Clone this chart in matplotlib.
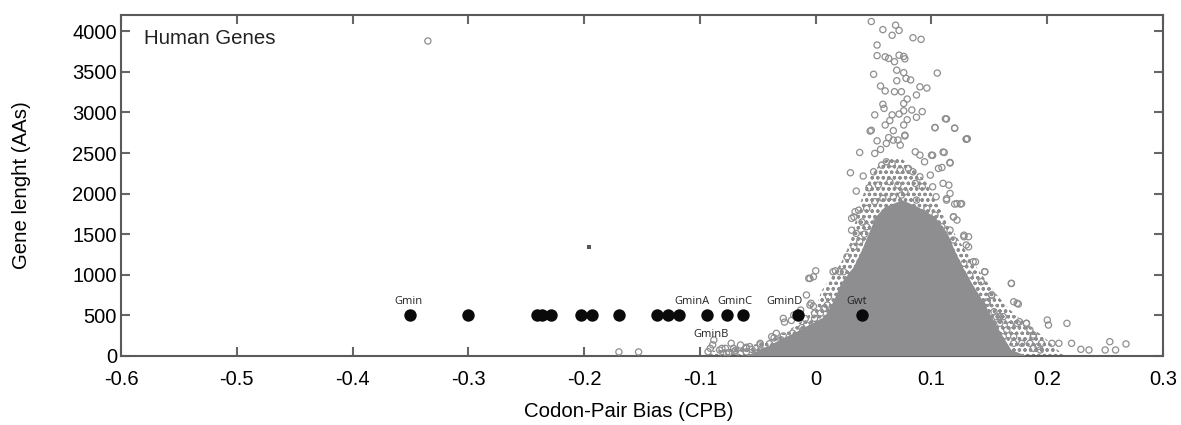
import numpy as np
from matplotlib import pyplot as plt
from matplotlib import rcParams

midgray = "#8e8e90"
spinegray = "#5a5a5a"

rcParams["font.family"] = ["Liberation Sans", "DejaVu Sans"]
rcParams["xtick.labelsize"] = 14.5
rcParams["ytick.labelsize"] = 14.5
rcParams["axes.labelsize"] = 14.7
rcParams["text.color"] = "#222222"
rcParams["hatch.linewidth"] = 0.9
rcParams["hatch.color"] = midgray

# recoded genes (black dots), all at 500 AAs
dot_cpb = [-0.350, -0.300, -0.241, -0.236, -0.229, -0.203, -0.193, -0.170,
           -0.137, -0.128, -0.118, -0.094, -0.077, -0.063, -0.015, 0.040]
dot_len = [500] * len(dot_cpb)

gene_labels = ["Gmin", "GminA", "GminB", "GminC", "GminD", "Gwt"]
label_cpb = [-0.352, -0.107, -0.090, -0.070, -0.027, 0.035]
label_len = [665, 665, 265, 665, 665, 665]

# solid core of the human gene cloud (outline)
core_cpb = [-0.060, -0.048, -0.019, 0.008, 0.016, 0.022, 0.033, 0.040, 0.046,
            0.052, 0.060, 0.075, 0.088, 0.103, 0.114, 0.120, 0.127, 0.135,
            0.144, 0.152, 0.160, 0.169, 0.182]
core_len = [0, 74, 279, 484, 688, 893, 1098, 1303, 1508, 1713, 1836, 1918,
            1836, 1713, 1508, 1303, 1098, 893, 688, 484, 279, 74, 0]

# band of densely overlapping genes around the core
band_cpb = [-0.095, -0.090, -0.060, -0.040, -0.025, -0.010, 0.000, 0.005, 0.015,
            0.022, 0.030, 0.035, 0.040, 0.047, 0.056, 0.065, 0.075, 0.085,
            0.095, 0.102, 0.110, 0.118, 0.127, 0.136, 0.146, 0.156, 0.167,
            0.181, 0.196, 0.206, 0.215]
band_len = [0, 60, 110, 200, 300, 450, 600, 800, 1000, 1150, 1400, 1700, 1950,
            2200, 2380, 2450, 2420, 2300, 2150, 1950, 1750, 1550, 1350, 1150,
            950, 760, 580, 400, 250, 110, 0]

# individual human genes outside the dense band
genes_top = [
    (0.048, 4120), (0.058, 4020), (0.069, 4075), (0.072, 4010), (0.066, 3950),
    (0.084, 3920), (0.091, 3900), (0.053, 3830), (0.053, 3700), (0.060, 3685),
    (0.063, 3665), (0.072, 3705), (0.076, 3690), (0.077, 3660), (0.068, 3625),
    (0.050, 3470), (0.070, 3520), (0.076, 3490), (0.105, 3485), (0.070, 3390),
    (0.078, 3420), (0.082, 3400), (0.056, 3325), (0.060, 3265), (0.068, 3255),
    (0.074, 3255), (0.087, 3215), (0.090, 3315), (0.096, 3300), (0.079, 3165),
    (0.076, 3110), (0.058, 3100), (0.059, 3050), (0.051, 2970), (0.066, 2970),
    (0.072, 2980), (0.076, 3020), (0.083, 3030), (0.092, 3010), (0.087, 2940),
    (0.079, 2910), (0.064, 2900), (0.113, 2920), (0.103, 2815), (0.120, 2805),
    (0.048, 2780), (0.060, 2845), (0.067, 2775), (0.076, 2845), (0.130, 2670),
    (0.053, 2650), (0.063, 2690), (0.071, 2660), (0.077, 2710), (-0.335, 3880),
]
genes_mid = [
    (0.047, 2770), (0.130, 2671), (0.038, 2507), (0.051, 2495), (0.056, 2544),
    (0.061, 2618), (0.067, 2659), (0.073, 2597), (0.077, 2720), (0.086, 2515),
    (0.090, 2474), (0.094, 2392), (0.100, 2474), (0.111, 2507), (0.116, 2384),
    (0.030, 2257), (0.041, 2216), (0.050, 2269), (0.057, 2351), (0.061, 2392),
    (0.066, 2372), (0.073, 2290), (0.080, 2310), (0.084, 2269), (0.090, 2208),
    (0.099, 2228), (0.106, 2310), (0.109, 2322), (0.035, 2031), (0.046, 2072),
    (0.054, 2105), (0.064, 2146), (0.071, 2105), (0.077, 2023), (0.086, 2126),
    (0.092, 2084), (0.101, 2084), (0.110, 2126), (0.115, 2105), (0.116, 2002),
    (0.125, 1871), (0.120, 1871), (0.104, 1961), (0.113, 1920), (0.031, 1695),
    (0.034, 1777), (0.044, 1818), (0.051, 1900), (0.058, 1941), (0.067, 1961),
    (0.074, 1982), (0.087, 1920), (0.096, 1818), (0.103, 1736), (0.119, 1715),
    (0.122, 1674), (0.116, 1551), (0.128, 1469), (0.132, 1469), (0.035, 1510),
    (0.044, 1592), (0.053, 1674), (0.061, 1756), (0.070, 1797), (0.079, 1838),
    (0.084, 1674), (0.090, 1715), (0.099, 1633), (0.109, 1592), (0.119, 1428),
    (0.130, 1367), (0.038, 1408), (0.047, 1428), (0.112, 2922), (0.120, 2807),
    (0.131, 2676), (0.103, 2811), (0.116, 2377), (0.110, 2512), (0.101, 2471),
    (0.113, 1938), (0.122, 1877), (0.126, 1877), (0.119, 1713), (0.128, 1488),
    (0.132, 1344), (0.027, 1221), (0.033, 1344), (0.031, 1549), (0.033, 1713),
    (0.037, 1795), (0.040, 1650), (0.042, 1500), (0.108, 1400), (0.115, 1300),
]
genes_left = [
    (0.000, 1049), (-0.005, 955), (0.017, 1049), (0.021, 1037), (0.030, 955),
    (-0.028, 463), (-0.019, 504), (-0.013, 566), (-0.005, 627), (-0.001, 525),
    (0.007, 586), (0.010, 627), (-0.008, 381), (-0.034, 279), (-0.038, 238),
    (-0.048, 156), (-0.057, 115), (-0.065, 135), (-0.073, 156), (-0.078, 94),
    (-0.088, 197), (-0.091, 94), (-0.083, 74), (-0.071, 94), (-0.060, 107),
    (-0.093, 53), (-0.089, 137), (-0.081, 94), (-0.077, 30), (-0.069, 71),
    (-0.060, 94), (-0.048, 137), (-0.036, 223), (-0.027, 417), (-0.021, 438),
    (-0.009, 460), (-0.002, 612), (-0.028, 246), (-0.170, 50), (-0.153, 50),
    (-0.006, 956), (-0.002, 976), (-0.004, 649), (-0.008, 751), (-0.001, 464),
    (0.004, 526), (0.008, 587), (0.011, 730), (0.015, 1038), (0.024, 1038),
    (0.031, 997), (0.007, 361), (-0.011, 320), (-0.005, 218), (-0.040, 150),
    (-0.035, 100), (-0.030, 200), (-0.025, 120), (-0.020, 280), (-0.015, 200),
    (-0.012, 350), (-0.045, 60), (-0.050, 40), (-0.055, 80), (-0.060, 50),
    (-0.065, 30), (-0.070, 60), (-0.075, 40), (-0.080, 30),
]
genes_right = [
    (0.138, 1160), (0.146, 1037), (0.169, 893), (0.171, 668), (0.175, 639),
    (0.152, 750), (0.148, 668), (0.154, 545), (0.162, 484), (0.174, 402),
    (0.182, 402), (0.185, 320), (0.188, 238), (0.200, 443), (0.201, 381),
    (0.217, 402), (0.195, 156), (0.204, 156), (0.210, 156), (0.221, 156),
    (0.229, 82), (0.236, 74), (0.250, 74), (0.259, 74), (0.254, 176),
    (0.268, 148), (0.188, 94), (0.194, 74), (0.178, 156), (0.171, 238),
    (0.165, 320), (0.159, 402), (0.156, 484), (0.148, 443), (0.156, 279),
    (0.128, 1141), (0.133, 997), (0.143, 915), (0.152, 751), (0.148, 649),
    (0.159, 484), (0.168, 382), (0.169, 895), (0.174, 649), (0.176, 422),
    (0.182, 402), (0.188, 258), (0.185, 156), (0.192, 115), (0.162, 238),
    (0.171, 156), (0.146, 1038), (0.136, 1161),
]

# small dark speck in the original scan
speck_cpb = [-0.196]
speck_len = [1346]


fig = plt.figure(figsize=(11.81, 4.25), dpi=100)
ax = fig.add_axes([0.1025, 0.1624, 0.8823, 0.8023])

ax.fill(band_cpb, band_len, facecolor="white", edgecolor=midgray, hatch="ooo",
        lw=0, zorder=2)
ax.fill(core_cpb, core_len, color=midgray, lw=0, zorder=3)

genes = np.array(genes_top + genes_mid + genes_left + genes_right)
ax.scatter(genes[:, 0], genes[:, 1], s=20, facecolors="none",
           edgecolors=midgray, linewidths=0.9, zorder=4)

ax.scatter(speck_cpb, speck_len, s=6, marker="s", color="#555555", lw=0, zorder=3)

ax.scatter(dot_cpb, dot_len, s=80, color="#0a0a0a", lw=0, zorder=5)
for name, x, y in zip(gene_labels, label_cpb, label_len):
    ax.text(x, y, name, ha="center", va="center", fontsize=8,
            family=["Open Sans", "DejaVu Sans"], color="#222222", zorder=6)

ax.text(0.022, 0.915, "Human Genes", transform=ax.transAxes, fontsize=14.7,
        va="baseline", ha="left")

ax.set_xlim(-0.6, 0.3)
ax.set_ylim(0, 4200)
ax.set_xticks(np.arange(-0.6, 0.31, 0.1))
ax.set_xticklabels(["-0.6", "-0.5", "-0.4", "-0.3", "-0.2", "-0.1", "0", "0.1", "0.2", "0.3"])
ax.set_yticks(np.arange(0, 4001, 500))

ax.tick_params(direction="in", top=True, right=True, length=6.5, width=1.5,
               color="#666666")
ax.tick_params(axis="x", pad=10)
ax.tick_params(axis="y", pad=3)
for spine in ax.spines.values():
    spine.set_color(spinegray)
    spine.set_linewidth(1.5)

ax.set_xlabel("Codon-Pair Bias (CPB)")
ax.set_ylabel("Gene lenght (AAs)")
ax.xaxis.set_label_coords(0.4875, -0.135)
ax.yaxis.set_label_coords(-0.086, 0.5)

fig.savefig("out.png", dpi=100)
